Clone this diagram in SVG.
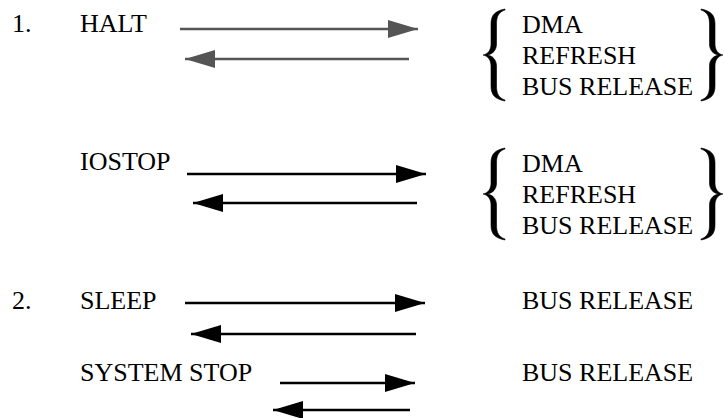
<svg xmlns="http://www.w3.org/2000/svg" width="724" height="418" viewBox="0 0 724 418" font-family="Liberation Serif, DejaVu Serif, serif" font-size="26">
<style>
.ln{stroke:#000;stroke-width:2.5;fill:none}
.ln.g{stroke:#555}
.br{fill:#000;stroke:#000;stroke-width:0.6}
</style>
<defs>
<marker id="ah" viewBox="0 0 30 18" refX="30" refY="9" markerWidth="30" markerHeight="18" markerUnits="userSpaceOnUse" orient="auto"><path d="M0,0L30,9L0,18z" fill="#000"/></marker>
<marker id="ahg" viewBox="0 0 30 18" refX="30" refY="9" markerWidth="30" markerHeight="18" markerUnits="userSpaceOnUse" orient="auto"><path d="M0,0L30,9L0,18z" fill="#555"/></marker>
<path id="lb" class="br" d="M505,9C495,11 491,15 491,24L491,44C491,50 488,54 483,55C488,56 491,60 491,66L491,86C491,95 495,99 505,101L505,100C499,98 496.5,94 496.5,86L496.5,66C496.5,60 493,56 487.5,55C493,54 496.5,50 496.5,44L496.5,24C496.5,16 499,12 505,10Z"/>
<path id="rb" class="br" d="M701,9C711,11 715,15 715,24L715,44C715,50 718,54 723,55C718,56 715,60 715,66L715,86C715,95 711,99 701,101L701,100C707,98 709.5,94 709.5,86L709.5,66C709.5,60 713,56 718.5,55C713,54 709.5,50 709.5,44L709.5,24C709.5,16 707,12 701,10Z"/>
</defs>
<g id="halt"><text x="12" y="32">1.</text><text x="80" y="32">HALT</text></g>
<g id="halt-modes"><text x="522" y="33">DMA</text><text x="522" y="64">REFRESH</text><text x="522" y="95">BUS RELEASE</text>
<use href="#lb"/><use href="#rb"/></g>
<g id="iostop"><text x="80" y="170">IOSTOP</text></g>
<g id="iostop-modes"><text x="522" y="172">DMA</text><text x="522" y="203">REFRESH</text><text x="522" y="234">BUS RELEASE</text>
<use href="#lb" y="139"/><use href="#rb" y="139"/></g>
<g id="sleep"><text x="12" y="309">2.</text><text x="80" y="309">SLEEP</text></g>
<g id="sleep-mode"><text x="522" y="309">BUS RELEASE</text></g>
<g id="sysstop"><text x="80" y="381">SYSTEM STOP</text></g>
<g id="sysstop-mode"><text x="522" y="381">BUS RELEASE</text></g>
<g id="connectors">
<line class="ln g" x1="180" y1="29" x2="418" y2="29" marker-end="url(#ahg)"/>
<line class="ln g" x1="409" y1="59" x2="185" y2="59" marker-end="url(#ahg)"/>
<line class="ln" x1="187" y1="174" x2="426" y2="174" marker-end="url(#ah)"/>
<line class="ln" x1="417" y1="203" x2="193" y2="203" marker-end="url(#ah)"/>
<line class="ln" x1="185" y1="303" x2="425" y2="303" marker-end="url(#ah)"/>
<line class="ln" x1="416" y1="334" x2="191" y2="334" marker-end="url(#ah)"/>
<line class="ln" x1="280" y1="383" x2="415" y2="383" marker-end="url(#ah)"/>
<line class="ln" x1="410" y1="410" x2="273" y2="410" marker-end="url(#ah)"/>
</g>
</svg>
